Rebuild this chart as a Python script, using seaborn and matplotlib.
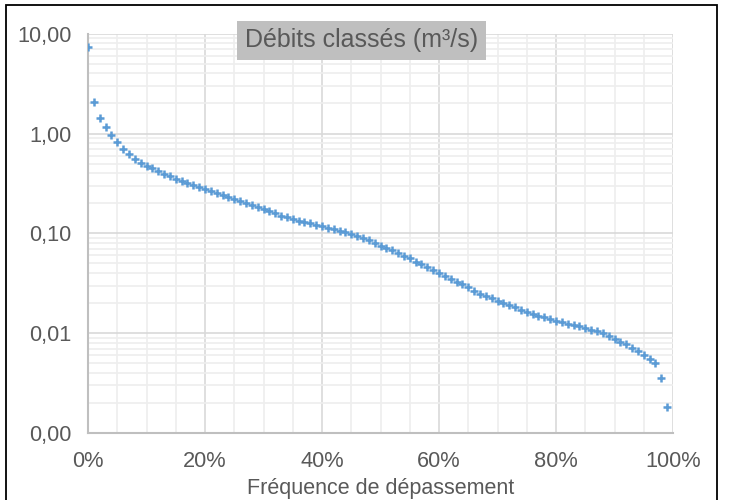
import matplotlib
matplotlib.use("Agg")
import matplotlib.pyplot as plt
import matplotlib.ticker as mticker
from matplotlib.patches import Rectangle
import seaborn as sns
import pandas as pd

# Exceedance frequency (fraction) and flow (m3/s)
frequence = [i / 100 for i in range(100)]
debits = [
    7.31, 2.07, 1.43, 1.15, 0.96, 0.82, 0.70, 0.62, 0.56, 0.51,
    0.472, 0.448, 0.421, 0.396, 0.373, 0.352, 0.334, 0.317, 0.303, 0.291,
    0.278, 0.267, 0.255, 0.244, 0.233, 0.222, 0.212, 0.203, 0.194, 0.185,
    0.176, 0.168, 0.159, 0.150, 0.145, 0.139, 0.134, 0.130, 0.126, 0.122,
    0.118, 0.114, 0.110, 0.106, 0.102, 0.0984, 0.0940, 0.0904, 0.0857, 0.0800,
    0.0752, 0.0718, 0.0681, 0.0631, 0.0593, 0.0561, 0.0519, 0.0489, 0.0456, 0.0429,
    0.0400, 0.0373, 0.0348, 0.0327, 0.0308, 0.0290, 0.0264, 0.0248, 0.0235, 0.0223,
    0.0210, 0.0199, 0.0190, 0.0181, 0.0172, 0.0164, 0.0156, 0.0149, 0.0144, 0.0138,
    0.0133, 0.0129, 0.0125, 0.0121, 0.0118, 0.0112, 0.0107, 0.0104, 0.00995, 0.00935,
    0.00867, 0.00815, 0.00773, 0.00714, 0.00658, 0.00604, 0.00546, 0.00498, 0.00357, 0.00183,
]
y_ticks = [0.001, 0.01, 0.1, 1, 10]
x_ticks = [0, 0.2, 0.4, 0.6, 0.8, 1.0]

titre = "Débits classés (m³/s)"
xlabel = "Fréquence de dépassement"

sns.set_theme(style="white")
plt.rcParams["font.family"] = ["Liberation Sans", "DejaVu Sans"]

W, H = 734, 500
fig = plt.figure(figsize=(W / 100, H / 100), dpi=100)
ax = fig.add_axes([88 / W, 1 - 433 / H, (673 - 88) / W, (433 - 33.7) / H])

df = pd.DataFrame({"freq": frequence, "debit": debits})
sns.scatterplot(data=df, x="freq", y="debit", ax=ax, marker="+",
                color="#5b9bd5", s=32, linewidth=1.8, zorder=3, legend=False)

ax.set_yscale("log")
ax.set_ylim(0.001, 10)
ax.set_xlim(0, 1)
ax.set_xticks(x_ticks)
ax.xaxis.set_minor_locator(mticker.MultipleLocator(0.05))
ax.set_yticks(y_ticks)
ax.yaxis.set_minor_locator(mticker.LogLocator(base=10, subs=range(2, 10)))
ax.yaxis.set_minor_formatter(mticker.NullFormatter())
ax.xaxis.set_major_formatter(mticker.FuncFormatter(lambda v, p: f"{v * 100:.0f}%"))
ax.yaxis.set_major_formatter(mticker.FuncFormatter(lambda v, p: f"{v:.2f}".replace(".", ",")))

ax.grid(which="major", color="#d9d9d9", linewidth=1.2, zorder=0)
ax.grid(which="minor", color="#eeeeee", linewidth=1.2, zorder=0)
ax.set_axisbelow(True)

for side in ("top", "right"):
    ax.spines[side].set_visible(False)
for side in ("left", "bottom"):
    ax.spines[side].set_color("#bfbfbf")
    ax.spines[side].set_linewidth(1.5)

ax.tick_params(which="both", length=0, colors="#595959", labelsize=15.7)
ax.tick_params(axis="y", pad=12)
ax.tick_params(axis="x", pad=13)
ax.set_ylabel("")
ax.set_xlabel(xlabel, fontsize=15.5, color="#595959", labelpad=4)

fig.text(361.5 / W, 1 - 40 / H, titre, ha="center", va="center",
         fontsize=18, color="#595959",
         bbox=dict(boxstyle="square,pad=0.3", facecolor="#bfbfbf", edgecolor="none"))

fig.patches.append(Rectangle((6 / W, -0.02), (717 - 6) / W, 1.02 - 5.5 / H,
                             transform=fig.transFigure, fill=False,
                             edgecolor="black", linewidth=1.3))

fig.savefig("out.png", dpi=100)
